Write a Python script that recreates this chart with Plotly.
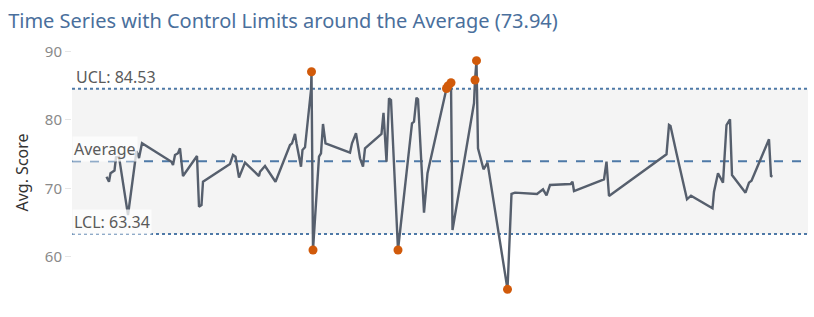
import pandas as pd
import plotly.graph_objects as go

# ---- data ----
start_date = "2019-01-01"
day_offsets = [0, 5, 8, 13, 16, 19, 25, 43, 60, 65, 71, 130, 133, 137, 143, 147, 153, 181, 185, 190,
               193, 247, 253, 258, 265, 277, 305, 307, 317, 338, 357, 367, 371, 377, 380, 389, 392, 397,
               409, 410, 413, 425, 429, 433, 438, 487, 491, 499, 507, 513, 517, 550, 554, 560, 565, 569,
               583, 611, 615, 620, 623, 635, 642, 670, 680, 683, 689, 692, 735, 737, 740, 743, 750, 754,
               758, 762, 802, 807, 810, 817, 861, 873, 880, 887, 928, 932, 935, 995, 1000, 1005, 1120,
               1125, 1128, 1140, 1161, 1169, 1212, 1215, 1223, 1233, 1240, 1247, 1251, 1278, 1285, 1290,
               1325, 1329, 1332]
scores = [71.69, 70.96, 72.19, 72.38, 72.6, 74.52, 74.6, 66.1, 75.44, 74.42, 76.57, 73.88, 73.4, 74.86,
          75.11, 75.84, 71.79, 74.71, 67.31, 67.56, 70.96, 73.55, 74.86, 74.61, 71.55, 73.74, 71.79,
          72.42, 73.25, 70.96, 74.61, 76.32, 76.57, 77.93, 76.57, 73.15, 75.59, 75.98, 84.35, 87.02,
          60.99, 74.61, 75.11, 79.39, 76.57, 75.2, 76.57, 78.03, 74.38, 73.15, 75.84, 77.93, 81.03,
          73.88, 83.14, 82.89, 60.99, 79.49, 79.72, 83.22, 82.99, 66.44, 72.19, 81.68, 84.57, 84.93,
          85.41, 63.91, 82.41, 85.81, 88.63, 75.84, 73.88, 72.77, 73.25, 73.74, 55.25, 64.89, 69.17,
          69.36, 69.17, 69.85, 68.98, 70.48, 70.63, 70.96, 69.6, 71.31, 73.88, 68.87, 74.96, 79.24,
          79.09, 75.11, 68.39, 68.92, 67.08, 69.5, 72.19, 70.82, 79.24, 80.07, 71.94, 69.36, 70.82,
          71.11, 77.15, 71.79, 71.69]
average = 73.94
ucl = 84.53
lcl = 63.34
y_ticks = [60, 70, 80, 90]
x_range_offsets = [-69, 1403]
y_range = [53.69, 90.92]

dates = pd.to_datetime(start_date) + pd.to_timedelta(day_offsets, unit="D")
x_range = [pd.to_datetime(start_date) + pd.Timedelta(days=d) for d in x_range_offsets]

out_x = [d for d, v in zip(dates, scores) if v > ucl or v < lcl]
out_y = [v for v in scores if v > ucl or v < lcl]

BLUE = "#4e79a7"
FONT = "Noto Sans"

fig = go.Figure()
fig.add_trace(go.Scatter(x=dates, y=scores, mode="lines",
                         line=dict(color="#565f6d", width=2.4), hoverinfo="skip"))
fig.add_trace(go.Scatter(x=out_x, y=out_y, mode="markers",
                         marker=dict(color="#d15a0a", size=9), hoverinfo="skip"))

# control band
fig.add_shape(type="rect", xref="paper", x0=0, x1=1, yref="y", y0=lcl, y1=ucl,
              fillcolor="#f4f4f4", line=dict(width=0), layer="below")
for val, dash in [(ucl, "dot"), (lcl, "dot"), (average, "dash")]:
    fig.add_shape(type="line", xref="paper", x0=0, x1=1, yref="y", y0=val, y1=val,
                  line=dict(color=BLUE, width=2, dash=dash), layer="below")

label_font = dict(family=FONT, size=16, color="#5a5a5a")
fig.add_annotation(xref="paper", x=0, xanchor="left", xshift=2, y=ucl, yanchor="middle",
                   yshift=12, text=f"UCL: {ucl:.2f}", showarrow=False, font=label_font)
fig.add_annotation(xref="paper", x=0, xanchor="left", xshift=0, y=average, yanchor="middle",
                   yshift=12, text="Average", showarrow=False, font=label_font,
                   bgcolor="rgba(255,255,255,0.75)")
fig.add_annotation(xref="paper", x=0, xanchor="left", xshift=0, y=lcl, yanchor="middle",
                   yshift=12, text=f"LCL: {lcl:.2f}", showarrow=False, font=label_font,
                   bgcolor="rgba(255,255,255,0.75)")

fig.update_layout(
    width=814, height=317,
    margin=dict(l=72, r=6, t=45, b=17),
    paper_bgcolor="white", plot_bgcolor="white",
    showlegend=False,
    title=dict(text=f"Time Series with Control Limits around the Average ({average:.2f})",
               x=0.01, xref="container", xanchor="left",
               y=1 - 21 / 317, yref="container", yanchor="middle",
               font=dict(family=FONT, size=20, color="#4a6f9c")),
    xaxis=dict(range=x_range, showticklabels=False, showgrid=False, zeroline=False,
               showline=False, ticks=""),
    yaxis=dict(range=y_range, tickvals=y_ticks, showgrid=False, zeroline=False, showline=False,
               ticks="outside", ticklen=6, tickcolor="#e6e6e6", tickwidth=1,
               tickfont=dict(family=FONT, size=15, color="#8a8a8a"),
               title=dict(text="Avg. Score", font=dict(family=FONT, size=16, color="#333333"),
                          standoff=12)),
)

fig.write_html("out.html")
